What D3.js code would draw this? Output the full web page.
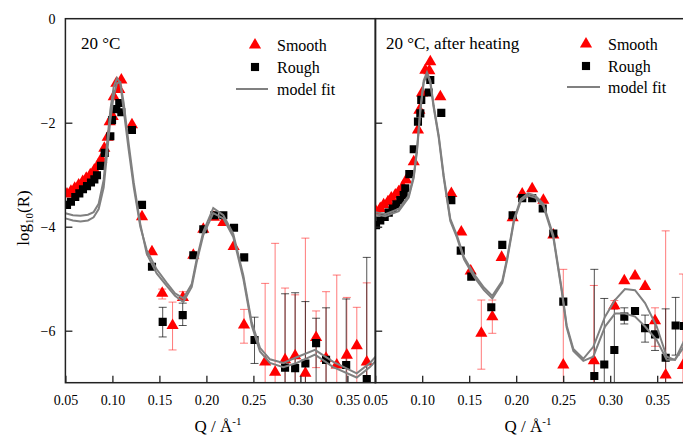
<!DOCTYPE html>
<html><head><meta charset="utf-8">
<script src="https://cdn.jsdelivr.net/npm/d3@7"></script>
<style>body{margin:0;background:#fff}svg{display:block}text{font-family:"Liberation Serif","Times New Roman",serif;fill:#000}</style>
</head><body><svg id="c" width="683" height="436"></svg>
<script>
// ---------- data ----------
const xTicks = [0.05,0.10,0.15,0.20,0.25,0.30,0.35];
const yTicks = [0,-2,-4,-6];

// Left panel: 20 °C
const qSmoothL = [.0517,.0559,.0599,.0641,.0684,.0722,.0765,.0808,.0847,.0882,.0914,.0950,.0971,.1003,.1014,.1042,.1073,.1095,.1208,.1315,.1421,.1530,.1640,.1750,.1861,.1967,.2080,.2180,.2290,.2400,.2625,.2731,.2837,.2944,.3053,.3167,.3273,.3387,.3494,.3600,.3706];
const rSmoothL = [-3.37,-3.32,-3.26,-3.20,-3.13,-3.07,-3.00,-2.91,-2.82,-2.70,-2.49,-2.28,-1.98,-1.88,-1.50,-1.24,-1.36,-1.18,-2.04,-3.81,-4.48,-5.28,-5.90,-5.36,-4.55,-4.05,-3.82,-3.92,-4.38,-5.89,-6.60,-6.80,-6.56,-6.48,-6.82,-6.13,-6.53,-6.66,-6.47,-6.29,-6.60];
const eQSmoothL = [.1530,.1640,.1750,.2400,.2625,.2731,.2837,.2944,.3053,.3167,.3273,.3387,.3494,.3600,.3706];
const eHiSmoothL = [-5.20,-5.45,-5.25,-5.59,-5.09,-4.32,-5.18,-5.31,-4.22,-5.62,-5.25,-4.93,-5.36,-5.55,-5.08];
const eLoSmoothL = [-5.39,-6.37,-5.41,-6.24,-8,-8,-8,-8,-8,-6.71,-8,-8,-8,-8,-8];

const qRoughL = [.0517,.0559,.0605,.0648,.0687,.0730,.0772,.0808,.0836,.0879,.0918,.0978,.0996,.1042,.1073,.1095,.1208,.1315,.1421,.1535,.1748,.1861,.1967,.2084,.2180,.2294,.2402,.2512,.2837,.2944,.3053,.3167,.3273,.3487,.3706];
const rRoughL = [-3.58,-3.52,-3.43,-3.36,-3.28,-3.22,-3.15,-3.09,-3.01,-2.83,-2.58,-2.26,-1.95,-1.74,-1.62,-1.80,-2.14,-3.58,-4.77,-5.83,-5.70,-4.55,-4.05,-3.78,-3.78,-4.02,-4.59,-6.18,-6.71,-6.72,-6.63,-6.24,-6.56,-6.66,-6.93];
const eQRoughL = [.1535,.1748,.2512,.2837,.2944,.3053,.3167,.3273,.3487,.3706];
const eHiRoughL = [-5.55,-5.47,-5.74,-5.29,-5.27,-5.44,-5.76,-5.56,-5.39,-4.59];
const eLoRoughL = [-6.12,-5.90,-6.63,-8,-8,-8,-8,-8,-8,-8];

const qFitL = [0.050,0.058,0.066,0.074,0.080,0.0854,0.0907,0.0943,0.0978,0.1014,0.1049,0.1084,0.112,0.1173,0.1227,0.1297,0.1365,0.1471,0.1578,0.1666,0.1754,0.1844,0.1897,0.1967,0.2073,0.218,0.2286,0.2393,0.2482,0.257,0.2676,0.2818,0.296,0.3155,0.335,0.3599,0.374,0.380];
const fitSmoothL = [-3.74,-3.78,-3.79,-3.77,-3.72,-3.56,-3.10,-2.39,-1.76,-1.31,-1.14,-1.24,-1.76,-2.52,-3.24,-4.00,-4.45,-4.82,-5.08,-5.28,-5.38,-5.10,-4.62,-4.10,-3.64,-3.78,-4.14,-4.94,-5.84,-6.33,-6.55,-6.62,-6.51,-6.37,-6.60,-6.82,-6.62,-6.50];
const fitRoughL = [-3.84,-3.88,-3.90,-3.88,-3.82,-3.66,-3.25,-2.60,-1.95,-1.48,-1.24,-1.22,-1.62,-2.40,-3.15,-3.95,-4.52,-4.90,-5.14,-5.33,-5.45,-5.16,-4.68,-4.16,-3.74,-3.84,-4.20,-5.00,-5.90,-6.40,-6.62,-6.70,-6.62,-6.46,-6.70,-6.90,-6.70,-6.58];

// Right panel: 20 °C, after heating
const qSmoothR = [.0509,.0554,.0590,.0636,.0671,.0714,.0750,.0793,.0831,.0910,.0955,.0970,.0998,.1033,.1076,.1086,.1193,.1310,.1416,.1516,.1629,.1746,.1845,.1962,.2064,.2170,.2289,.2395,.2501,.2826,.3044,.3150,.3264,.3371,.3477,.3590,.3774];
const rSmoothR = [-3.71,-3.65,-3.58,-3.52,-3.45,-3.39,-3.33,-3.23,-3.10,-2.75,-2.14,-1.76,-1.43,-0.99,-1.00,-0.83,-1.50,-3.36,-4.10,-4.85,-6.05,-5.73,-4.59,-3.83,-3.37,-3.27,-3.49,-4.16,-6.66,-6.58,-5.52,-5.04,-4.95,-5.15,-5.81,-6.85,-6.67];
const eQSmoothR = [.1629,.1746,.2501,.2826,.3044,.3477,.3590,.3774];
const eHiSmoothR = [-5.41,-5.41,-4.82,-5.13,-5.42,-5.56,-4.08,-4.91];
const eLoSmoothR = [-6.74,-6.05,-8,-8,-5.59,-6.30,-8,-8];

const qRoughR = [.0509,.0554,.0601,.0644,.0686,.0725,.0767,.0803,.0820,.0863,.0910,.0955,.0980,.0990,.1069,.1086,.1203,.1310,.1410,.1522,.1735,.1852,.1962,.2064,.2170,.2282,.2395,.2501,.2831,.2937,.3044,.3150,.3264,.3371,.3477,.3590,.3696,.3785];
const rRoughR = [-3.97,-3.88,-3.81,-3.73,-3.65,-3.57,-3.49,-3.39,-3.26,-2.99,-2.51,-1.98,-1.82,-1.56,-1.42,-1.18,-1.81,-3.49,-4.46,-4.96,-5.55,-4.35,-3.78,-3.45,-3.45,-3.65,-4.13,-5.44,-6.87,-6.65,-6.37,-5.73,-5.62,-5.95,-6.07,-6.52,-5.90,-5.91];
const eQRoughR = [.2831,.2937,.3044,.3150,.3264,.3371,.3477,.3590,.3696];
const eHiRoughR = [-4.82,-5.38,-5.54,-5.56,-5.57,-5.70,-5.81,-5.58,-5.36];
const eLoRoughR = [-8,-8,-8,-5.87,-5.68,-6.22,-6.38,-8,-6.47];

const qFitR = [0.050,0.0607,0.075,0.0856,0.091,0.0945,0.098,0.1016,0.1051,0.1086,0.1122,0.1176,0.1229,0.1299,0.137,0.1445,0.1551,0.1657,0.1746,0.1852,0.1905,0.1977,0.2048,0.2126,0.220,0.2288,0.2395,0.2484,0.2537,0.2608,0.2714,0.282,0.2945,0.3051,0.3157,0.3264,0.3371,0.3495,0.3601,0.3689,0.3774,0.382];
const fitSmoothR = [-3.72,-3.76,-3.66,-3.40,-3.02,-2.50,-1.74,-1.19,-1.03,-1.19,-1.67,-2.25,-3.02,-3.85,-4.17,-4.59,-4.91,-5.17,-5.33,-5.04,-4.59,-3.85,-3.47,-3.36,-3.40,-3.56,-4.17,-5.20,-5.90,-6.35,-6.54,-6.31,-5.73,-5.41,-5.20,-5.22,-5.47,-5.92,-6.50,-6.56,-6.24,-6.05];
const fitRoughR = [-3.76,-3.80,-3.70,-3.44,-3.06,-2.54,-1.78,-1.23,-1.07,-1.23,-1.71,-2.29,-3.06,-3.89,-4.21,-4.63,-4.96,-5.22,-5.38,-5.08,-4.63,-3.89,-3.51,-3.40,-3.44,-3.60,-4.21,-5.24,-5.94,-6.39,-6.58,-6.50,-5.92,-5.67,-5.67,-5.73,-5.92,-6.18,-6.56,-6.56,-6.34,-6.15];

const panelTitles = ["20 °C","20 °C, after heating"];
const legendLabels = ["Smooth","Rough","model fit"];

// ---------- drawing ----------
const svg = d3.select("#c");
const plotTop = 18.7, plotBottom = 382.7;
const y = d3.scaleLinear().domain([-7,0]).range([plotBottom, plotTop]);
const zip = (a,b) => a.map((v,i)=>[v,b[i]]);

const panels = [
  {x0:65.4, x1:375.6, title:panelTitles[0], tx:81, legX:255, lineX:[236,268], textX:277, legY:[45,67,89],
   sm:zip(qSmoothL,rSmoothL), rg:zip(qRoughL,rRoughL),
   esm:eQSmoothL.map((q,i)=>[q,eHiSmoothL[i],eLoSmoothL[i]]), erg:eQRoughL.map((q,i)=>[q,eHiRoughL[i],eLoRoughL[i]]),
   fs:zip(qFitL,fitSmoothL), fr:zip(qFitL,fitRoughL), yLabels:true, xLabelX:218},
  {x0:375.2, x1:685.4, title:panelTitles[1], tx:386, legX:586, lineX:[567,600], textX:608, legY:[44,66,87],
   sm:zip(qSmoothR,rSmoothR), rg:zip(qRoughR,rRoughR),
   esm:eQSmoothR.map((q,i)=>[q,eHiSmoothR[i],eLoSmoothR[i]]), erg:eQRoughR.map((q,i)=>[q,eHiRoughR[i],eLoRoughR[i]]),
   fs:zip(qFitR,fitSmoothR), fr:zip(qFitR,fitRoughR), yLabels:false, xLabelX:528}
];

const tri = d3.symbol().type(d3.symbolTriangle).size(64);
const sq = d3.symbol().type(d3.symbolSquare).size(66);

panels.forEach((p,pi)=>{
  const x = d3.scaleLinear().domain([0.05,0.38]).range([p.x0,p.x1]);
  const cid = "clip"+pi;
  svg.append("clipPath").attr("id",cid).append("rect")
     .attr("x",p.x0).attr("y",plotTop).attr("width",p.x1-p.x0).attr("height",plotBottom-plotTop);
  const g = svg.append("g").attr("clip-path",`url(#${cid})`);

  const drawErr = (arr,color)=>{
    const eg = g.append("g").attr("stroke",color).attr("stroke-width",1);
    arr.forEach(d=>{
      const xx = x(d[0]);
      eg.append("line").attr("x1",xx).attr("x2",xx).attr("y1",y(d[1])).attr("y2",y(d[2]));
      eg.append("line").attr("x1",xx-4).attr("x2",xx+4).attr("y1",y(d[1])).attr("y2",y(d[1]));
      eg.append("line").attr("x1",xx-4).attr("x2",xx+4).attr("y1",y(d[2])).attr("y2",y(d[2]));
    });
  };
  drawErr(p.esm,"rgba(255,40,40,0.62)");
  drawErr(p.erg,"rgba(0,0,0,0.68)");

  g.selectAll(".s").data(p.sm).join("path").attr("d",tri)
   .attr("transform",d=>`translate(${x(d[0])},${y(d[1])})`).attr("fill","#ff0000");
  g.selectAll(".r").data(p.rg).join("path").attr("d",sq)
   .attr("transform",d=>`translate(${x(d[0])},${y(d[1])})`).attr("fill","#000");

  const line = d3.line().x(d=>x(d[0])).y(d=>y(d[1]));
  [p.fs,p.fr].forEach(f=>{
    g.append("path").attr("d",line(f)).attr("fill","none").attr("stroke","#808080").attr("stroke-width",2);
  });

  // axes
  const ax = svg.append("g").attr("transform",`translate(0,${plotBottom})`)
    .call(d3.axisBottom(x).tickValues(xTicks).tickSizeInner(-7).tickSizeOuter(0).tickPadding(12).tickFormat(d3.format(".2f")));
  ax.select(".domain").remove();
  ax.selectAll("line").attr("stroke","#222").attr("stroke-width",1.3);
  ax.selectAll("text").attr("font-size",14).attr("font-family","Liberation Serif");

  const ay = svg.append("g").attr("transform",`translate(${p.x0},0)`)
    .call(d3.axisLeft(y).tickValues(yTicks).tickSizeInner(-7).tickSizeOuter(0).tickPadding(10).tickFormat(d=>d===0?"0":d3.format("d")(d)));
  ay.select(".domain").remove();
  ay.selectAll("line").attr("stroke","#222").attr("stroke-width",1.3);
  ay.selectAll("text").attr("font-size",14).attr("font-family","Liberation Serif");
  if(!p.yLabels) ay.selectAll("text").remove();
  ay.selectAll(".tick").filter(d=>d===0).select("line").remove();

  // frame
  svg.append("rect").attr("x",p.x0).attr("y",plotTop).attr("width",p.x1-p.x0).attr("height",plotBottom-plotTop)
    .attr("fill","none").attr("stroke","#222").attr("stroke-width",1.5);

  // title
  svg.append("text").attr("x",p.tx).attr("y",49).attr("font-size",17).text(p.title);

  // legend
  svg.append("path").attr("d",tri).attr("transform",`translate(${p.legX},${p.legY[0]})`).attr("fill","#ff0000");
  svg.append("path").attr("d",sq).attr("transform",`translate(${p.legX},${p.legY[1]})`).attr("fill","#000");
  svg.append("line").attr("x1",p.lineX[0]).attr("x2",p.lineX[1]).attr("y1",p.legY[2]).attr("y2",p.legY[2])
    .attr("stroke","#808080").attr("stroke-width",2);
  legendLabels.forEach((t,i)=>{
    svg.append("text").attr("x",p.textX).attr("y",p.legY[i]+6).attr("font-size",16).text(t);
  });

  // x label
  const xl = svg.append("text").attr("x",p.xLabelX).attr("y",432).attr("font-size",17).attr("text-anchor","middle");
  xl.append("tspan").text("Q / Å");
  xl.append("tspan").attr("font-size",11).attr("dy",-7).text("-1");
});

// y label
const yl = svg.append("text").attr("transform","translate(29,218) rotate(-90)").attr("text-anchor","middle").attr("font-size",17);
yl.append("tspan").text("log");
yl.append("tspan").attr("font-size",11).attr("dy",4).text("10");
yl.append("tspan").attr("dy",-4).text("(R)");
</script></body></html>
